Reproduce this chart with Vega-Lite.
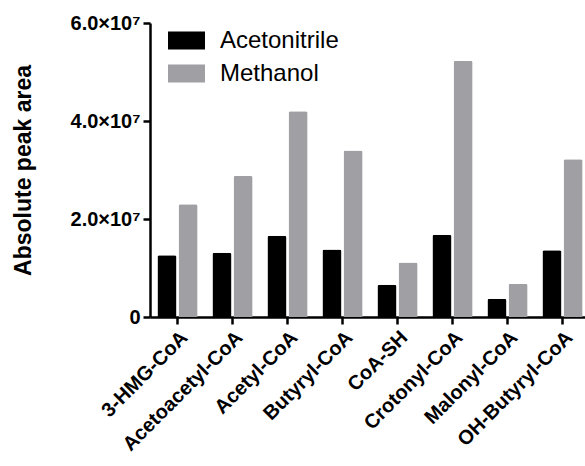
{
  "$schema": "https://vega.github.io/schema/vega-lite/v6.json",
  "autosize": "none",
  "padding": {"left": 150, "top": 23, "right": 0, "bottom": 149},
  "width": 435,
  "height": 294,
  "background": "white",
  "config": {
    "view": {"stroke": null},
    "font": "Liberation Sans"
  },
  "data": {
    "values": [
      {"compound": "3-HMG-CoA", "solvent": "Acetonitrile", "area": 12600000},
      {"compound": "3-HMG-CoA", "solvent": "Methanol", "area": 23000000},
      {"compound": "Acetoacetyl-CoA", "solvent": "Acetonitrile", "area": 13100000},
      {"compound": "Acetoacetyl-CoA", "solvent": "Methanol", "area": 28800000},
      {"compound": "Acetyl-CoA", "solvent": "Acetonitrile", "area": 16600000},
      {"compound": "Acetyl-CoA", "solvent": "Methanol", "area": 42000000},
      {"compound": "Butyryl-CoA", "solvent": "Acetonitrile", "area": 13800000},
      {"compound": "Butyryl-CoA", "solvent": "Methanol", "area": 34000000},
      {"compound": "CoA-SH", "solvent": "Acetonitrile", "area": 6600000},
      {"compound": "CoA-SH", "solvent": "Methanol", "area": 11100000},
      {"compound": "Crotonyl-CoA", "solvent": "Acetonitrile", "area": 16800000},
      {"compound": "Crotonyl-CoA", "solvent": "Methanol", "area": 52300000},
      {"compound": "Malonyl-CoA", "solvent": "Acetonitrile", "area": 3750000},
      {"compound": "Malonyl-CoA", "solvent": "Methanol", "area": 6800000},
      {"compound": "OH-Butyryl-CoA", "solvent": "Acetonitrile", "area": 13600000},
      {"compound": "OH-Butyryl-CoA", "solvent": "Methanol", "area": 32200000}
    ]
  },
  "mark": {"type": "bar", "cornerRadiusEnd": 2},
  "encoding": {
    "x": {
      "field": "compound",
      "type": "nominal",
      "sort": null,
      "scale": {"range": [0, 440], "paddingInner": 0.27, "paddingOuter": 0.135},
      "axis": {
        "title": null,
        "labelAngle": -45,
        "labelAlign": "right",
        "labelBaseline": "top",
        "labelFont": "Liberation Sans",
        "labelFontWeight": "bold",
        "labelFontSize": 20,
        "labelColor": "black",
        "labelPadding": 3,
        "domainColor": "black",
        "domainWidth": 2.5,
        "tickColor": "black",
        "tickWidth": 2.5,
        "tickSize": 7
      }
    },
    "xOffset": {
      "field": "solvent",
      "type": "nominal",
      "scale": {"paddingInner": 0.1, "paddingOuter": 0}
    },
    "y": {
      "field": "area",
      "type": "quantitative",
      "scale": {"domain": [0, 60000000], "nice": false},
      "axis": {
        "title": "Absolute peak area",
        "titleFont": "Liberation Sans",
        "titleFontWeight": "bold",
        "titleFontSize": 23,
        "titleColor": "black",
        "titleX": -127,
        "titleBaseline": "middle",
        "values": [0, 20000000, 40000000, 60000000],
        "labelExpr": "datum.value == 0 ? '0' : format(datum.value / 10000000, '.1f') + '×10⁷'",
        "labelFont": "Liberation Sans",
        "labelFontWeight": "bold",
        "labelFontSize": 20,
        "labelColor": "black",
        "labelPadding": 3,
        "grid": false,
        "domainColor": "black",
        "domainWidth": 2.5,
        "tickColor": "black",
        "tickWidth": 2.5,
        "tickSize": 7
      }
    },
    "color": {
      "field": "solvent",
      "type": "nominal",
      "scale": {"domain": ["Acetonitrile", "Methanol"], "range": ["#000000", "#A0A0A4"]},
      "legend": {
        "title": null,
        "orient": "none",
        "legendX": 18,
        "legendY": -1,
        "padding": 0,
        "symbolType": "M-1,-0.49H1V0.49H-1Z",
        "symbolSize": 1369,
        "symbolStrokeWidth": 0,
        "labelFont": "Liberation Sans",
        "labelFontSize": 24,
        "labelColor": "black",
        "labelOffset": 15,
        "rowPadding": 2
      }
    }
  }
}
